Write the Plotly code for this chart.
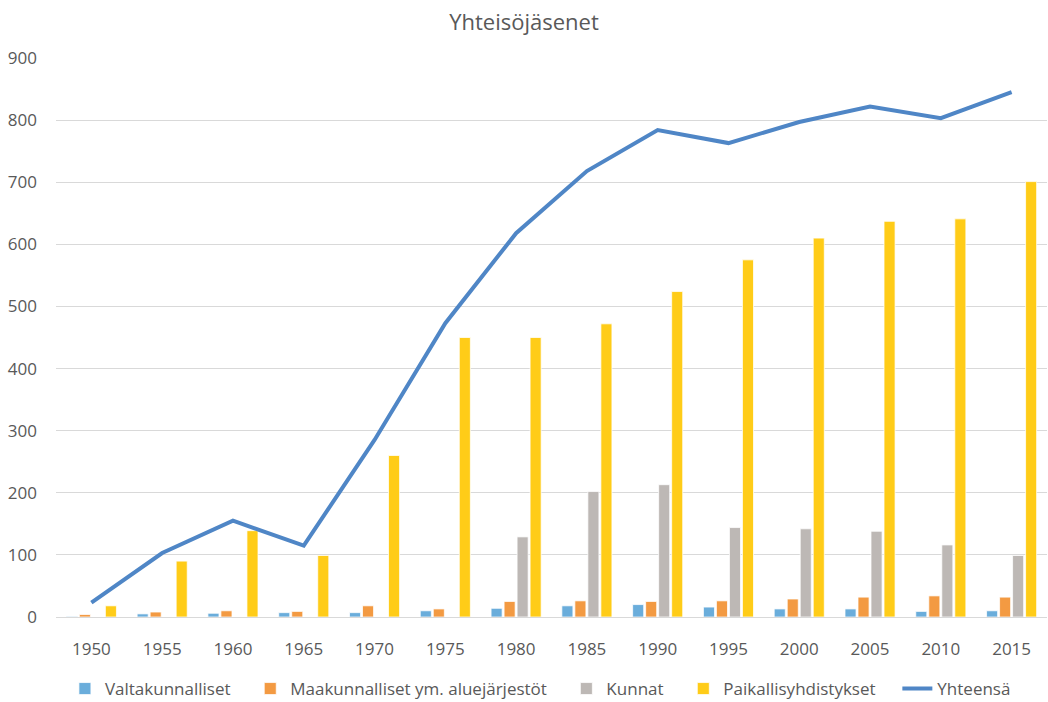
import plotly.graph_objects as go

years = ["1950", "1955", "1960", "1965", "1970", "1975", "1980", "1985", "1990", "1995", "2000", "2005", "2010", "2015"]
valtakunnalliset = [1, 5, 6, 7, 7, 10, 14, 18, 20, 16, 13, 13, 9, 10]
maakunnalliset = [4, 8, 10, 9, 18, 13, 25, 26, 25, 26, 29, 32, 34, 32]
kunnat = [0, 0, 0, 0, 0, 0, 129, 202, 213, 144, 142, 138, 116, 99]
paikallisyhdistykset = [18, 90, 139, 99, 260, 450, 450, 472, 524, 575, 610, 637, 641, 701]
yhteensa = [23, 103, 155, 115, 285, 473, 618, 718, 784, 763, 797, 822, 803, 845]

font_color = "#595959"
fnt = "Open Sans, Liberation Sans, sans-serif"
fig = go.Figure()
bar_specs = [
    ("Valtakunnalliset", valtakunnalliset, "#6AADDB", "legend", 0.009),
    ("Maakunnalliset ym. aluejärjestöt", maakunnalliset, "#F39A42", "legend2", 0.196),
    ("Kunnat", kunnat, "#BDB8B5", "legend3", 0.515),
    ("Paikallisyhdistykset", paikallisyhdistykset, "#FFCC18", "legend4", 0.633),
]
legend_y = 13 / 702
legend_layout = {}
for name, vals, col, lg, lx in bar_specs:
    fig.add_trace(go.Bar(x=years, y=vals, name=name, legend=lg, showlegend=True,
                         marker=dict(color=col, line=dict(color="white", width=0.75))))
    legend_layout[lg] = dict(x=lx, xanchor="left", y=legend_y, yref="container", yanchor="middle",
                             font=dict(family=fnt, size=17, color=font_color),
                             itemwidth=30, bgcolor="rgba(0,0,0,0)")
fig.add_trace(go.Scatter(x=years, y=yhteensa, name="Yhteensä", mode="lines", legend="legend5",
                         showlegend=True, line=dict(color="#4F86C6", width=4)))
legend_layout["legend5"] = dict(x=0.849, xanchor="left", y=legend_y, yref="container", yanchor="middle",
                                font=dict(family=fnt, size=17, color=font_color),
                                itemwidth=30, bgcolor="rgba(0,0,0,0)")

fig.update_layout(
    width=1048, height=702,
    showlegend=True,
    paper_bgcolor="white", plot_bgcolor="white",
    font=dict(family=fnt, size=17, color=font_color),
    title=dict(text="Yhteisöjäsenet", x=0.5, xanchor="center", y=1 - 22 / 702, yanchor="middle",
               font=dict(size=22, color=font_color)),
    margin=dict(l=56, r=1, t=58, b=85),
    barmode="group", bargap=0.265, bargroupgap=0.15,
    xaxis=dict(showgrid=False, showline=True, linecolor="#D9D9D9", linewidth=1, automargin=False,
               ticks="", ticklabelstandoff=17, tickfont=dict(size=17, color=font_color)),
    yaxis=dict(range=[0, 900], dtick=100, showgrid=True, gridcolor="#D9D9D9", gridwidth=1,
               zeroline=False, showline=False, ticks="", automargin=False, ticklabelstandoff=18,
               tickfont=dict(size=17, color=font_color)),
    **legend_layout,
)
fig.write_html("out.html", config={"displayModeBar": False},
               post_script="document.body.style.margin='0';document.body.style.overflow='hidden';")
